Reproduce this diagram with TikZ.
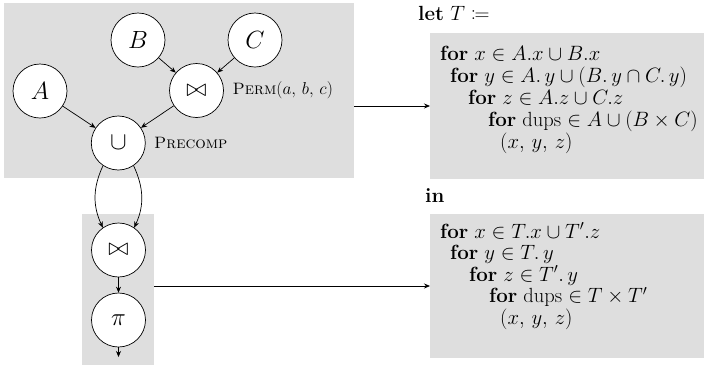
\documentclass[tikz,border=0pt]{standalone}
\usepackage{amsmath,amssymb,mathtools}
\usetikzlibrary{arrows.meta}
\newcommand{\topstrut}{\rule{0pt}{16pt}}
\begin{document}
\begin{tikzpicture}[x=1pt,y=-1pt,
  op/.style={circle,draw,fill=white,minimum size=54pt,inner sep=0pt,
    line width=0.7pt,font=\fontsize{24}{28}\selectfont},
  arr/.style={-{Stealth[length=6pt,width=5pt]},line width=0.7pt},
  code/.style={anchor=base west,inner sep=0pt,font=\fontsize{20.5}{24}\selectfont},
  block/.style={anchor=north west,inner sep=0pt,align=left},
  lbl/.style={anchor=west,inner sep=0pt,font=\fontsize{16.5}{20}\selectfont},
  shade/.style={fill=black!13,draw=none}
]
\useasboundingbox (0,0) rectangle (704,365);

% shaded panels
\fill[shade] (4,3.3) rectangle (354.3,178);
\fill[shade] (82,214) rectangle (154,365);
\fill[shade] (430,33) rectangle (704,179);
\fill[shade] (430,214) rectangle (704,358);
\coordinate (leftTopEdge) at (354.3,106);
\coordinate (leftLowEdge) at (154,286);
\coordinate (codeTop) at (430,106);
\coordinate (codeLow) at (430,286);

% plan nodes
\node[op] (A) at (40,91) {$A$};
\node[op] (B) at (138,40) {$B$};
\node[op] (C) at (255,40) {$C$};
\node[op] (J1) at (196.5,90.5) {$\bowtie$};
\node[op] (U) at (118.3,143) {$\cup$};
\node[op] (J2) at (118.5,250) {$\bowtie$};
\node[op] (P) at (118.5,320) {$\pi$};
\coordinate (out) at (118.5,357);

\node[lbl] (permlbl) at (232.5,90) {\textsc{Perm}{\fontsize{19}{22}\selectfont$(a,\,b,\,c)$}};
\node[lbl] (prelbl) at (154,143) {\textsc{Precomp}};

\draw[arr] (B) -- (J1);
\draw[arr] (C) -- (J1);
\draw[arr] (A) -- (U);
\draw[arr] (J1) -- (U);
\draw[arr] (U.-124) to[out=-115,in=115] (J2.125);
\draw[arr] (U.-56) to[out=-65,in=65] (J2.55);
\draw[arr] (J2) -- (P);
\draw[arr] (P) -- (out);

\draw[arr] (leftTopEdge) -- (codeTop);
\draw[arr] (leftLowEdge) -- (codeLow);

% generated code: first baseline sits 16pt below each block's top
\node[code] (let) at (418,20) {\textbf{let} $T \coloneqq$};
\node[block,font=\fontsize{20.5}{22}\selectfont] (letbody) at (440,44) {%
  \topstrut\textbf{for} $x \in A.x \cup B.x$\\
  \hspace*{10pt}\textbf{for} $y \in A.\,y \cup (B.\,y \cap C.\,y)$\\
  \hspace*{28pt}\textbf{for} $z \in A.z \cup C.z$\\
  \hspace*{48pt}\textbf{for} dups $\in A \cup (B \times C)$\\
  \hspace*{60pt}$(x,\,y,\,z)$};

\node[code] (in) at (425,202) {\textbf{in}};
\node[block,font=\fontsize{20.5}{21.5}\selectfont] (inbody) at (440,222) {%
  \topstrut\textbf{for} $x \in T.x \cup T'.z$\\
  \hspace*{10pt}\textbf{for} $y \in T.\,y$\\
  \hspace*{29pt}\textbf{for} $z \in T'.\,y$\\
  \hspace*{49pt}\textbf{for} dups $\in T \times T'$\\
  \hspace*{60pt}$(x,\,y,\,z)$};
\end{tikzpicture}
\end{document}
